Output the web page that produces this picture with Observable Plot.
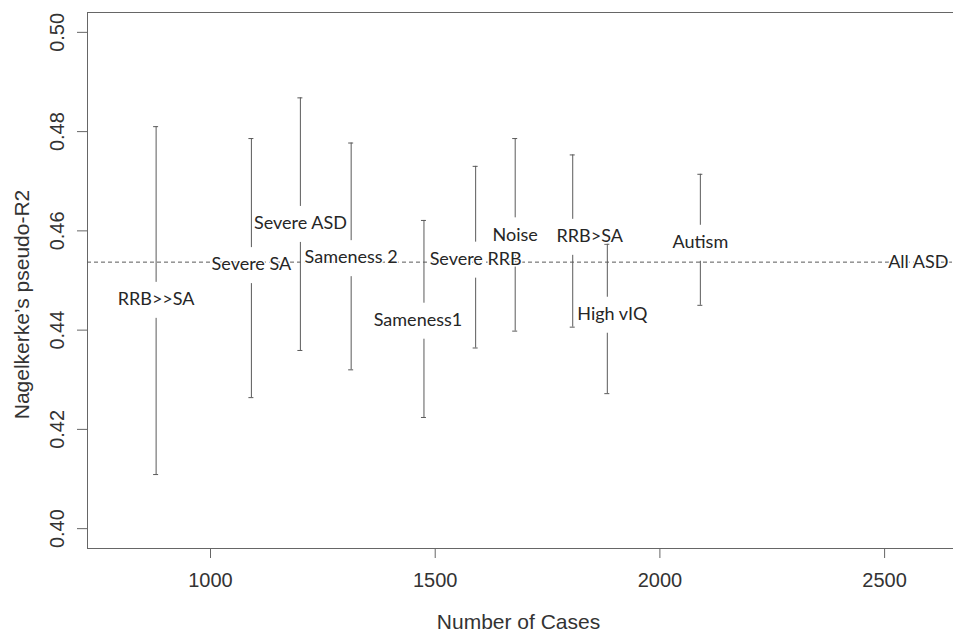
<!DOCTYPE html>
<html><head><meta charset="utf-8">
<script src="https://cdn.jsdelivr.net/npm/d3@7"></script>
<script src="https://cdn.jsdelivr.net/npm/@observablehq/plot@0.6"></script>
<style>body{margin:0;background:#fff}</style>
</head><body><div id="chart"></div>
<script>
// Data
const names    = ["RRB>>SA","Severe SA","Severe ASD","Sameness 2","Sameness1","Severe RRB","Noise","RRB>SA","High vIQ","Autism"];
const cases    = [879, 1091, 1200, 1313, 1475, 1590, 1678, 1806, 1883, 2090];
const estimate = [0.4462, 0.4532, 0.4615, 0.4546, 0.4420, 0.4543, 0.4592, 0.4589, 0.4432, 0.4577];
const lower    = [0.4109, 0.4264, 0.4359, 0.4320, 0.4224, 0.4364, 0.4398, 0.4406, 0.4272, 0.4450];
const upper    = [0.4810, 0.4786, 0.4868, 0.4777, 0.4621, 0.4730, 0.4786, 0.4753, 0.4573, 0.4714];
const refLabel = "All ASD";
const refValue = 0.4537;
const refCases = 2575;
const xTicks = [1000, 1500, 2000, 2500];
const yTicks = [0.40, 0.42, 0.44, 0.46, 0.48, 0.50];
const xTitle = "Number of Cases";
const yTitle = "Nagelkerke’s pseudo-R2";

const rows = names.map((name, i) => ({name, n: cases[i], est: estimate[i], lo: lower[i], hi: upper[i]}));
const ref = [{name: refLabel, n: refCases, est: refValue}];

const lineColor = "#5a5a5a";
const labelFont = "Lato, 'Open Sans', sans-serif";
const axisFont = "'Liberation Sans', Arial, sans-serif";

// label text style; a few labels are nudged sideways as in the original figure
const labelStyle = {x: "n", y: "est", text: "name", fontFamily: labelFont, fontSize: 18, fill: "#262626",
  stroke: "white", strokeWidth: 3, paintOrder: "stroke"};
const nudged = {"RRB>SA": 17, "High vIQ": 5, "Sameness1": -6};
const plain = rows.filter(d => !(d.name in nudged));

const chart = Plot.plot({
  width: 953,
  height: 635,
  marginLeft: 87,
  marginRight: 0,
  marginTop: 12,
  marginBottom: 87,
  style: {fontFamily: axisFont, fontSize: "20px", color: "#333", background: "#fff"},
  x: {domain: [726.3, 2653.3]},
  y: {domain: [0.396, 0.504]},
  marks: [
    Plot.frame({anchor: "top", stroke: "#666"}),
    Plot.frame({anchor: "bottom", stroke: "#666"}),
    Plot.frame({anchor: "left", stroke: "#666"}),
    Plot.ruleY([refValue], {stroke: lineColor, strokeDasharray: "4,3"}),
    // upper and lower parts of each interval, with a gap around the label
    Plot.ruleX(rows, {x: "n", y1: "hi", y2: "est", insetBottom: 17, stroke: lineColor}),
    Plot.ruleX(rows, {x: "n", y1: "est", y2: "lo", insetTop: 19, stroke: lineColor}),
    // small end caps
    Plot.ruleY(rows, {y: "hi", x1: "n", x2: "n", insetLeft: -2.5, insetRight: -2.5, stroke: lineColor}),
    Plot.ruleY(rows, {y: "lo", x1: "n", x2: "n", insetLeft: -2.5, insetRight: -2.5, stroke: lineColor}),
    Plot.text(plain, labelStyle),
    ...Object.keys(nudged).map(k => Plot.text(rows.filter(d => d.name === k), {...labelStyle, dx: nudged[k]})),
    Plot.text(ref, labelStyle),
    Plot.axisX(xTicks, {tickSize: 10, tickPadding: 14, stroke: "#666", fill: "#333", fontSize: 20,
      tickFormat: d => String(d), label: null}),
    Plot.axisY(yTicks, {tickSize: 10, stroke: "#666", fill: "none", label: null}),
    Plot.text(yTicks, {y: d => d, text: d => d.toFixed(2), frameAnchor: "left", textAnchor: "middle",
      lineAnchor: "middle", dx: -30, rotate: -90, fontSize: 20, fill: "#333"}),
    Plot.text([xTitle], {text: d => d, frameAnchor: "bottom", dx: -2, dy: 80, fontSize: 21, fill: "#333"}),
    Plot.text([yTitle], {text: d => d, frameAnchor: "left", textAnchor: "middle", lineAnchor: "middle",
      dx: -65, dy: 24, rotate: -90, fontSize: 21, fill: "#333"})
  ]
});
document.getElementById("chart").appendChild(chart);
</script>
</body></html>
